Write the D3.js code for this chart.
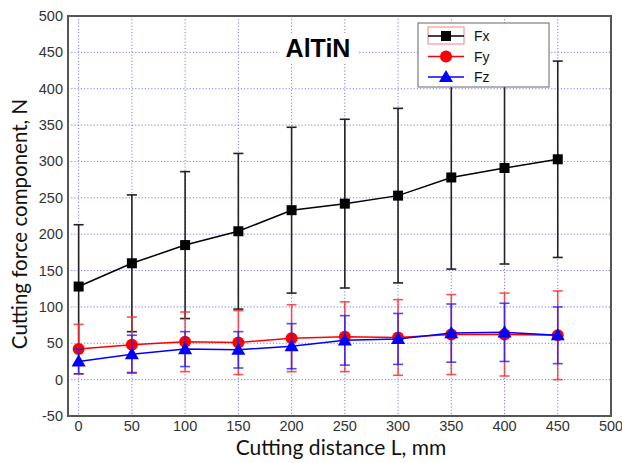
<!DOCTYPE html>
<html>
<head>
    <title>AlTiN cutting forces</title>
    <script src="https://d3js.org/d3.v7.min.js"></script>
    <style>
        html, body { margin: 0; padding: 0; background: #fff; }
        #chart { width: 622px; height: 463px; }
    </style>
</head>
<body>
<div id="chart"></div>
<script>
    // cutting distance, mm
    const distance = [0, 50, 100, 150, 200, 250, 300, 350, 400, 450];

    // mean forces (N) and error half-widths
    const fxMean = [128, 160, 185, 204, 233, 242, 253, 278, 291, 303];
    const fxErr  = [85, 94, 101, 107, 114, 116, 120, 126, 132, 135];
    const fyMean = [42, 48, 52, 51, 57, 59, 58, 62, 62, 61];
    const fyErr  = [34, 38, 41, 44, 46, 48, 52, 55, 57, 61];
    const fzMean = [25, 35, 42, 41, 46, 54, 56, 64, 65, 61];
    const fzErr  = [17, 26, 24, 25, 31, 34, 35, 40, 40, 39];

    const xTicks = [0, 50, 100, 150, 200, 250, 300, 350, 400, 450, 500];
    const yTicks = [-50, 0, 50, 100, 150, 200, 250, 300, 350, 400, 450, 500];
    const seriesNames = ["Fx", "Fy", "Fz"];

    const width = 622, height = 463;
    const plotL = 68, plotR = 611, plotT = 16, plotB = 416;

    const svg = d3.select("#chart").append("svg")
        .attr("width", width)
        .attr("height", height)
        .style("font-family", "Arial, 'Liberation Sans', sans-serif");

    const x = d3.scaleLinear().domain([-10, 500]).range([plotL, plotR]);
    const y = d3.scaleLinear().domain([-50, 500]).range([plotB, plotT]);

    // grid
    const grid = svg.append("g");
    grid.selectAll(".vg")
        .data(xTicks.filter(d => d < 500))
        .enter().append("line")
        .attr("x1", d => x(d)).attr("x2", d => x(d))
        .attr("y1", plotT).attr("y2", plotB)
        .attr("stroke", "#7a7aff").attr("stroke-width", 1)
        .attr("stroke-dasharray", "1.2,2");
    grid.selectAll(".hg")
        .data(yTicks.filter(d => d > -50 && d < 500))
        .enter().append("line")
        .attr("x1", plotL).attr("x2", plotR)
        .attr("y1", d => y(d)).attr("y2", d => y(d))
        .attr("stroke", "#7a7aff").attr("stroke-width", 1)
        .attr("stroke-dasharray", "1.2,2");

    // tick labels
    svg.selectAll(".xl")
        .data(xTicks)
        .enter().append("text")
        .attr("x", d => x(d)).attr("y", 431)
        .attr("text-anchor", "middle")
        .attr("fill", "#333")
        .style("font-size", "14.5px")
        .text(d => d);
    svg.selectAll(".yl")
        .data(yTicks)
        .enter().append("text")
        .attr("x", 63).attr("y", d => y(d) + 5)
        .attr("text-anchor", "end")
        .attr("fill", "#333")
        .style("font-size", "14.5px")
        .text(d => d);

    // axis titles
    svg.append("text")
        .attr("x", 341).attr("y", 455)
        .attr("text-anchor", "middle")
        .style("font-family", "Lato, 'Open Sans', sans-serif")
        .style("font-size", "21px")
        .attr("fill", "#111")
        .text("Cutting distance L, mm");
    svg.append("text")
        .attr("transform", "translate(27,224) rotate(-90)")
        .attr("text-anchor", "middle")
        .style("font-family", "Lato, 'Open Sans', sans-serif")
        .style("font-size", "20.5px")
        .attr("fill", "#111")
        .text("Cutting force component, N");

    // title
    svg.append("rect")
        .attr("x", 278).attr("y", 33).attr("width", 80).attr("height", 30)
        .attr("fill", "#fff");
    svg.append("text")
        .attr("x", 318).attr("y", 57)
        .attr("text-anchor", "middle")
        .style("font-size", "25px")
        .style("font-weight", "bold")
        .attr("fill", "#000")
        .text("AlTiN");

    const series = [
        { name: "Fx", mean: fxMean, err: fxErr, color: "#000", errColor: "#222", shape: "square" },
        { name: "Fy", mean: fyMean, err: fyErr, color: "#ff0000", errColor: "rgba(255,40,40,0.8)", shape: "circle" },
        { name: "Fz", mean: fzMean, err: fzErr, color: "#0000ff", errColor: "rgba(30,30,255,0.8)", shape: "triangle" }
    ];

    const line = d3.line().x(d => x(d.x)).y(d => y(d.y));

    function drawMarker(g, shape, color, cx, cy) {
        if (shape === "square") {
            g.append("rect").attr("x", cx - 5).attr("y", cy - 5)
                .attr("width", 10).attr("height", 10).attr("fill", color);
        } else if (shape === "circle") {
            g.append("circle").attr("cx", cx).attr("cy", cy).attr("r", 6).attr("fill", color);
        } else {
            g.append("path")
                .attr("d", d3.symbol().type(d3.symbolTriangle).size(85)())
                .attr("transform", `translate(${cx},${cy + 1})`)
                .attr("fill", color);
        }
    }

    series.forEach(s => {
        const pts = distance.map((d, i) => ({ x: d, y: s.mean[i], e: s.err[i] }));
        const g = svg.append("g");
        // error bars
        pts.forEach(p => {
            g.append("line")
                .attr("x1", x(p.x)).attr("x2", x(p.x))
                .attr("y1", y(p.y - p.e)).attr("y2", y(p.y + p.e))
                .attr("stroke", s.errColor).attr("stroke-width", 1.6);
            [p.y - p.e, p.y + p.e].forEach(v => {
                g.append("line")
                    .attr("x1", x(p.x) - 5).attr("x2", x(p.x) + 5)
                    .attr("y1", y(v)).attr("y2", y(v))
                    .attr("stroke", s.errColor).attr("stroke-width", 1.6);
            });
        });
        g.append("path")
            .datum(pts)
            .attr("d", line)
            .attr("fill", "none")
            .attr("stroke", s.color)
            .attr("stroke-width", 1.5);
        pts.forEach(p => drawMarker(g, s.shape, s.color, x(p.x), y(p.y)));
    });

    // frame
    svg.append("rect")
        .attr("x", plotL).attr("y", plotT)
        .attr("width", plotR - plotL).attr("height", plotB - plotT)
        .attr("fill", "none")
        .attr("stroke", "#555").attr("stroke-width", 2);

    // legend
    const leg = svg.append("g");
    leg.append("rect")
        .attr("x", 418).attr("y", 23).attr("width", 131).attr("height", 64)
        .attr("fill", "#fff").attr("stroke", "#666").attr("stroke-width", 1);
    leg.append("rect")
        .attr("x", 428).attr("y", 27).attr("width", 36).attr("height", 17)
        .attr("fill", "none").attr("stroke", "#ff8080").attr("stroke-width", 1);
    series.forEach((s, i) => {
        const ly = 36 + i * 20.5;
        leg.append("line")
            .attr("x1", 428).attr("x2", 464)
            .attr("y1", ly).attr("y2", ly)
            .attr("stroke", s.color).attr("stroke-width", 1.5);
        drawMarker(leg, s.shape, s.color, 446, ly);
        leg.append("text")
            .attr("x", 474).attr("y", ly + 5)
            .style("font-size", "14px")
            .attr("fill", "#111")
            .text(seriesNames[i]);
    });
</script>
</body>
</html>
